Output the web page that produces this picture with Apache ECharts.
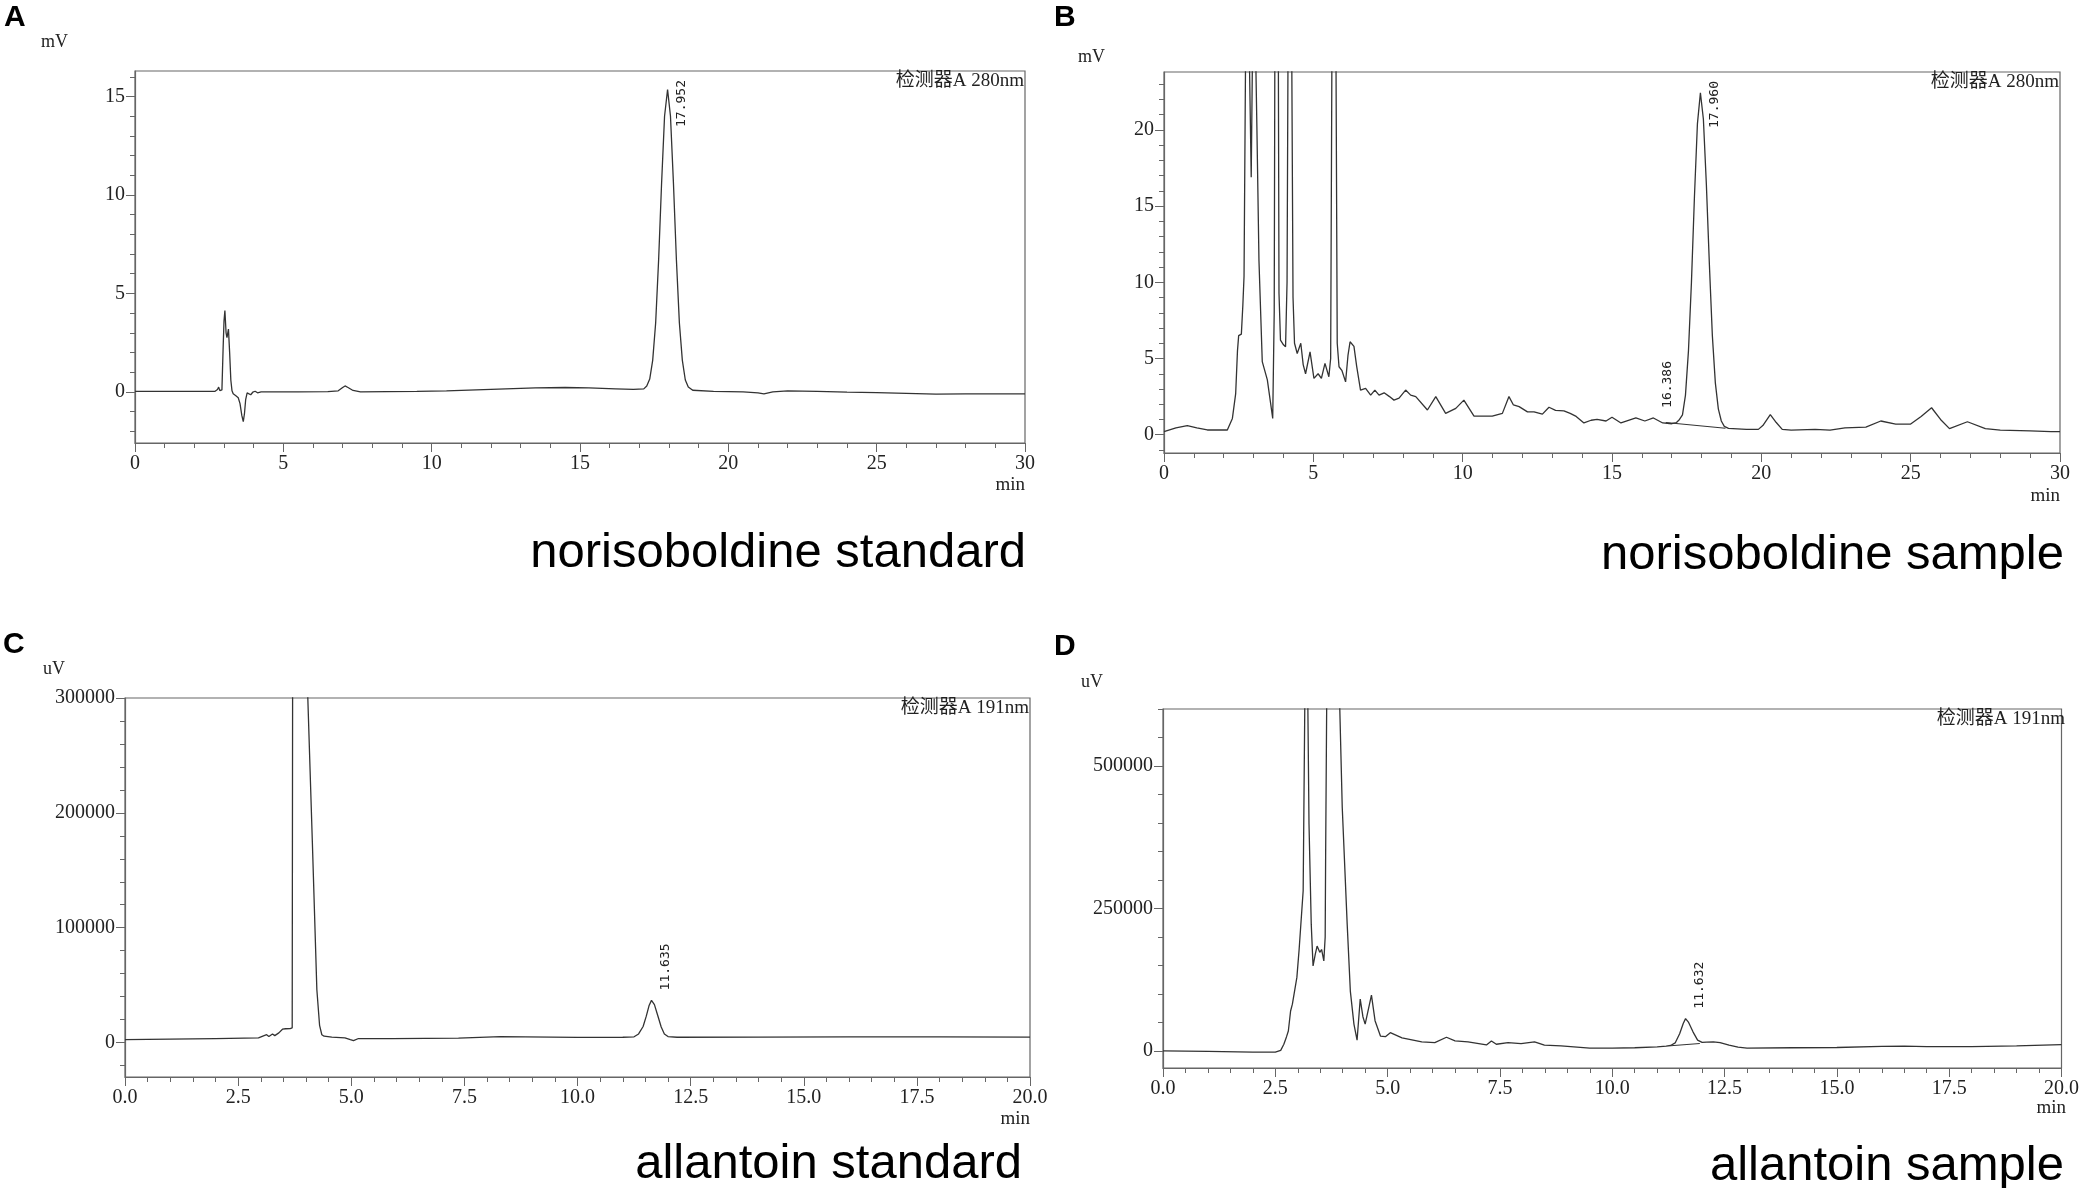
<!DOCTYPE html>
<html>
<head>
<meta charset="utf-8">
<script src="https://cdn.jsdelivr.net/npm/echarts@6/dist/echarts.min.js"></script>
<style>
  html, body { margin: 0; padding: 0; background: #fff; }
  #chart { width: 2082px; height: 1188px; }
</style>
</head>
<body>
<div id="chart"></div>
<script>
// ---- data (time in min, signal in mV / uV) ----
const norStandardTrace = [
  [0, 0.02], [1.0, 0.02], [2.0, 0.02], [2.7, 0.03], [2.78, 0.12], [2.82, 0.24], [2.86, 0.06],
  [2.93, 0.1], [2.97, 2.2], [3.0, 3.6], [3.03, 4.13], [3.07, 3.0], [3.10, 2.75], [3.15, 3.19],
  [3.19, 2.0], [3.23, 0.6], [3.27, 0.05], [3.31, -0.1], [3.40, -0.2], [3.48, -0.3], [3.54, -0.6],
  [3.60, -1.2], [3.65, -1.51], [3.69, -1.1], [3.73, -0.4], [3.78, -0.05], [3.84, -0.1], [3.90, -0.15],
  [3.97, -0.02], [4.05, 0.03], [4.13, -0.05], [4.25, 0.0], [4.5, 0.0], [5.5, 0.0], [6.5, 0.01],
  [6.85, 0.05], [7.0, 0.22], [7.08, 0.3], [7.18, 0.22], [7.35, 0.07], [7.6, 0.0], [8.5, 0.01],
  [9.5, 0.02], [10.5, 0.05], [11.5, 0.1], [12.5, 0.15], [13.5, 0.2], [14.5, 0.22], [15.3, 0.2],
  [16.2, 0.15], [16.8, 0.12], [17.15, 0.15], [17.25, 0.3], [17.35, 0.65], [17.45, 1.6], [17.55, 3.5],
  [17.65, 6.7], [17.75, 10.6], [17.85, 14.0], [17.952, 15.36], [18.05, 14.0], [18.15, 10.6],
  [18.25, 6.7], [18.35, 3.5], [18.45, 1.6], [18.55, 0.6], [18.65, 0.25], [18.8, 0.08], [19.5, 0.02],
  [20.5, 0.0], [21.0, -0.05], [21.2, -0.1], [21.5, 0.0], [22.0, 0.05], [23.0, 0.02], [24.0, -0.02],
  [25.0, -0.04], [26.0, -0.08], [27.0, -0.12], [28.0, -0.1], [29.0, -0.1], [30.0, -0.1]
];

const norSampleTrace = [
  [0, 0.2], [0.4, 0.45], [0.78, 0.59], [1.1, 0.45], [1.45, 0.31], [2.12, 0.31], [2.29, 1.07],
  [2.40, 2.7], [2.46, 5.5], [2.50, 6.5], [2.59, 6.6], [2.64, 8.5], [2.68, 10.4], [2.73, 24.5],
  [2.80, 40], [2.86, 24.5], [2.92, 16.9], [2.96, 24.5], [3.02, 40], [3.08, 23.7], [3.11, 20.2],
  [3.18, 11.4], [3.29, 4.8], [3.46, 3.6], [3.57, 2.06], [3.64, 1.07], [3.69, 8], [3.71, 24],
  [3.77, 40], [3.83, 24], [3.85, 9.3], [3.90, 6.2], [4.00, 5.9], [4.07, 5.77], [4.12, 10],
  [4.15, 24], [4.22, 40], [4.28, 24], [4.32, 9], [4.37, 6.0], [4.46, 5.33], [4.58, 6.0],
  [4.66, 4.6], [4.74, 4.0], [4.89, 5.44], [5.02, 3.7], [5.16, 4.0], [5.27, 3.7], [5.39, 4.68],
  [5.52, 3.8], [5.58, 5], [5.62, 24], [5.69, 40], [5.76, 24], [5.80, 6], [5.86, 4.46], [5.96, 4.2],
  [6.08, 3.47], [6.16, 5.2], [6.23, 6.1], [6.36, 5.8], [6.45, 4.5], [6.58, 2.93], [6.75, 3.04],
  [6.92, 2.6], [7.06, 2.93], [7.2, 2.6], [7.37, 2.75], [7.55, 2.5], [7.7, 2.27], [7.87, 2.4],
  [8.09, 2.93], [8.26, 2.6], [8.43, 2.5], [8.82, 1.62], [9.1, 2.5], [9.43, 1.4], [9.77, 1.73],
  [10.04, 2.27], [10.38, 1.22], [10.99, 1.22], [11.33, 1.4], [11.55, 2.5], [11.7, 1.95],
  [11.89, 1.84], [12.17, 1.5], [12.39, 1.5], [12.67, 1.35], [12.89, 1.8], [13.11, 1.6],
  [13.39, 1.57], [13.6, 1.4], [13.8, 1.2], [14.06, 0.77], [14.3, 0.95], [14.5, 1.0], [14.8, 0.9],
  [15.0, 1.15], [15.3, 0.77], [15.8, 1.1], [16.1, 0.9], [16.386, 1.1], [16.7, 0.77], [17.0, 0.72],
  [17.16, 0.8], [17.26, 1.0], [17.36, 1.3], [17.46, 2.6], [17.56, 5.5], [17.66, 10.0], [17.76, 15.6],
  [17.86, 20.4], [17.96, 22.44], [18.06, 20.7], [18.16, 16.4], [18.26, 11.2], [18.36, 6.5],
  [18.46, 3.4], [18.56, 1.7], [18.66, 0.9], [18.76, 0.55], [18.9, 0.42], [19.5, 0.35], [19.9, 0.35],
  [20.05, 0.6], [20.3, 1.32], [20.5, 0.8], [20.7, 0.35], [21.0, 0.3], [21.8, 0.35], [22.3, 0.3],
  [22.8, 0.45], [23.5, 0.5], [24.0, 0.9], [24.5, 0.7], [25.0, 0.7], [25.35, 1.2], [25.7, 1.77],
  [26.0, 1.0], [26.3, 0.4], [26.9, 0.85], [27.5, 0.4], [28.0, 0.3], [29.0, 0.25], [29.7, 0.2],
  [30.0, 0.2]
];
const norSampleBaseline = [[16.8, 0.8], [18.8, 0.42]];

const allStandardTrace = [
  [0, 2500], [1.0, 3000], [2.0, 3500], [2.95, 4100], [3.06, 5800], [3.13, 6800], [3.18, 5200],
  [3.26, 7400], [3.31, 6000], [3.40, 8400], [3.48, 11600], [3.55, 12000], [3.65, 12200],
  [3.695, 12800], [3.71, 500000], [3.85, 900000], [3.98, 420000], [4.04, 300000], [4.14, 175000],
  [4.24, 46000], [4.30, 15000], [4.35, 6800], [4.40, 5500], [4.42, 6800], [4.57, 4700],
  [4.86, 4100], [4.98, 2500], [5.05, 1600], [5.16, 3500], [5.9, 3500], [7.37, 3800], [8.3, 5200],
  [8.84, 4900], [10, 4500], [11, 4600], [11.25, 5000], [11.35, 7500], [11.45, 14000],
  [11.52, 23000], [11.58, 32000], [11.635, 36700], [11.70, 33000], [11.77, 24000], [11.85, 13500],
  [11.92, 7500], [12.0, 5200], [12.2, 4600], [14, 4700], [16, 5000], [18, 5000], [20, 4700]
];

const allSampleTrace = [
  [0, 0], [1.0, -1000], [2.0, -2000], [2.5, -2000], [2.62, 1000], [2.69, 11700], [2.75, 25000],
  [2.79, 35000], [2.84, 70000], [2.88, 82000], [2.92, 85000], [2.98, 129000], [3.03, 178000],
  [3.06, 181000], [3.12, 281000], [3.16, 640000], [3.19, 720000], [3.22, 640000], [3.25, 398000],
  [3.30, 222000], [3.34, 149000], [3.39, 170000], [3.43, 184000], [3.49, 173000], [3.53, 178000],
  [3.58, 158000], [3.61, 200000], [3.62, 340000], [3.65, 680000], [3.78, 1100000], [3.91, 680000],
  [3.99, 427000], [4.10, 222000], [4.17, 105000], [4.25, 47000], [4.32, 19000], [4.39, 91000],
  [4.45, 60000], [4.50, 47000], [4.64, 98000], [4.72, 53000], [4.84, 26000], [4.95, 25000],
  [5.06, 32000], [5.32, 23000], [5.76, 16000], [6.05, 14600], [6.31, 24000], [6.5, 17500],
  [6.79, 16000], [7.2, 10500], [7.31, 17500], [7.42, 11700], [7.68, 14600], [7.97, 12900],
  [8.27, 15800], [8.49, 10000], [8.86, 8800], [9.5, 4900], [10.0, 5000], [10.5, 5500], [11.0, 7000],
  [11.2, 8500], [11.3, 9500], [11.4, 14000], [11.5, 30000], [11.58, 48000], [11.632, 56600],
  [11.7, 50000], [11.8, 33000], [11.9, 19000], [12.0, 15000], [12.1, 15500], [12.25, 16000],
  [12.4, 14500], [12.6, 10000], [12.8, 6500], [13.0, 5000], [14, 5500], [15, 6000], [16, 8000],
  [16.5, 8500], [17, 7500], [18, 7500], [19, 9000], [20, 11000]
];
const allSampleBaseline = [[11.3, 9000], [11.95, 13000]];

// peak labels [time, apex value, text]
const norStandardPeaks = [[17.952, 15.36, '17.952']];
const norSamplePeaks = [[16.386, 1.1, '16.386'], [17.96, 22.44, '17.960']];
const allStandardPeaks = [[11.635, 36700, '11.635']];
const allSamplePeaks = [[11.632, 56600, '11.632']];

// tick values
const norStandardTicks = [0, 5, 10, 15];
const norSampleTicks = [0, 5, 10, 15, 20];
const allStandardTicks = [0, 100000, 200000, 300000];
const allSampleTicks = [0, 250000, 500000];

const captions = ['norisoboldine standard', 'norisoboldine sample', 'allantoin standard', 'allantoin sample'];
const panelLetters = ['A', 'B', 'C', 'D'];
const units = ['mV', 'mV', 'uV', 'uV'];
const detectors = ['检测器A 280nm', '检测器A 280nm', '检测器A 191nm', '检测器A 191nm'];

function minorValues(min, max, step, majors) {
  const out = [];
  for (let v = Math.ceil(min / step) * step; v <= max; v += step) {
    if (majors.indexOf(v) < 0) out.push(v);
  }
  return out;
}

const panels = [
  { trace: norStandardTrace, peaks: norStandardPeaks, ticks: norStandardTicks, minorStep: 1,
    ymin: -2.6, ymax: 16.3, xmax: 30, xint: 5, dec: 0,
    grid: { left: 135, top: 71, width: 890, height: 372 },
    letter: [4, 3], unit: [41, 33], min: [1025, 476], cap: [1026, 578] },
  { trace: norSampleTrace, peaks: norSamplePeaks, ticks: norSampleTicks, minorStep: 1,
    ymin: -1.2, ymax: 23.8, xmax: 30, xint: 5, dec: 0, base: norSampleBaseline,
    grid: { left: 1164, top: 72, width: 896, height: 381 },
    letter: [1054, 3], unit: [1078, 48], min: [2060, 487], cap: [2064, 580] },
  { trace: allStandardTrace, peaks: allStandardPeaks, ticks: allStandardTicks, minorStep: 20000,
    ymin: -30000, ymax: 300000, xmax: 20, xint: 2.5, dec: 1,
    grid: { left: 125, top: 698, width: 905, height: 379 },
    letter: [3, 630], unit: [43, 660], min: [1030, 1110], cap: [1022, 1189] },
  { trace: allSampleTrace, peaks: allSamplePeaks, ticks: allSampleTicks, minorStep: 50000,
    ymin: -30000, ymax: 600000, xmax: 20, xint: 2.5, dec: 1, base: allSampleBaseline,
    grid: { left: 1163, top: 709, width: 903, height: 359 },
    letter: [1054, 632], unit: [1081, 673], min: [2066, 1099], cap: [2064, 1191] }
];

const INK = '#333';
const FRAME = '#666';
const tickFont = { fontFamily: 'Liberation Serif', fontSize: 20, color: '#222' };

const grids = [], xAxes = [], yAxes = [], series = [];
panels.forEach((p, i) => {
  grids.push(Object.assign({ show: true, borderColor: FRAME, borderWidth: 1.2 }, p.grid));
  xAxes.push({
    gridIndex: i, type: 'value', min: 0, max: p.xmax, interval: p.xint,
    axisLine: { onZero: false, lineStyle: { color: FRAME, width: 1.2 } },
    axisTick: { length: 9, lineStyle: { color: FRAME } },
    minorTick: { show: true, splitNumber: 5, length: 5, lineStyle: { color: FRAME } },
    splitLine: { show: false },
    axisLabel: Object.assign({ margin: 11, formatter: v => v.toFixed(p.dec) }, tickFont)
  });
  yAxes.push({
    gridIndex: i, type: 'value', position: 'left', min: p.ymin, max: p.ymax,
    axisLine: { show: true, onZero: false, lineStyle: { color: FRAME, width: 1.2 } },
    axisTick: { show: true, length: 9, customValues: p.ticks, lineStyle: { color: FRAME } },
    splitLine: { show: false },
    axisLabel: Object.assign({ margin: 10, customValues: p.ticks, formatter: v => String(v) }, tickFont)
  });
  yAxes.push({
    gridIndex: i, type: 'value', position: 'left', min: p.ymin, max: p.ymax,
    axisLine: { show: false, onZero: false },
    axisTick: { show: true, length: 5, customValues: minorValues(p.ymin, p.ymax, p.minorStep, p.ticks),
      lineStyle: { color: FRAME } },
    splitLine: { show: false },
    axisLabel: { show: false }
  });
  series.push({
    type: 'line', xAxisIndex: i, yAxisIndex: 2 * i, data: p.trace,
    symbol: 'none', clip: true, lineStyle: { color: INK, width: 1.3 }
  });
});
panels.forEach((p, i) => {
  if (!p.base) return;
  series.push({
    type: 'line', xAxisIndex: i, yAxisIndex: 2 * i, data: p.base,
    symbol: 'none', clip: true, lineStyle: { color: INK, width: 1.1 }
  });
});

const chart = echarts.init(document.getElementById('chart'));
chart.setOption({
  animation: false,
  backgroundColor: '#fff',
  grid: grids,
  xAxis: xAxes,
  yAxis: yAxes,
  series: series
});

// texts: letters, units, "min", detector tags, captions and peak retention times
const graphics = [];
panels.forEach((p, i) => {
  const g = p.grid;
  graphics.push({ type: 'text', x: p.letter[0], y: p.letter[1],
    style: { text: panelLetters[i], fontFamily: 'Liberation Sans', fontWeight: 'bold', fontSize: 30,
      fill: '#000', align: 'left', verticalAlign: 'top' } });
  graphics.push({ type: 'text', x: p.unit[0], y: p.unit[1],
    style: { text: units[i], fontFamily: 'Liberation Serif', fontSize: 18, fill: '#222',
      align: 'left', verticalAlign: 'top' } });
  graphics.push({ type: 'text', x: p.min[0], y: p.min[1],
    style: { text: 'min', fontFamily: 'Liberation Serif', fontSize: 19, fill: '#222',
      align: 'right', verticalAlign: 'top' } });
  graphics.push({ type: 'text', x: g.left + g.width - 1, y: g.top + 1,
    style: { text: detectors[i], fontFamily: "'Liberation Serif', 'Noto Sans CJK SC'", fontSize: 19,
      fill: '#222', align: 'right', verticalAlign: 'top' } });
  graphics.push({ type: 'text', x: p.cap[0], y: p.cap[1],
    style: { text: captions[i], fontFamily: 'Liberation Sans', fontSize: 49, fill: '#000',
      align: 'right', verticalAlign: 'bottom' } });
  p.peaks.forEach(pk => {
    const px = chart.convertToPixel({ seriesIndex: i }, [pk[0], pk[1]]);
    const len = 48;
    let y = px[1] - 10;
    if (y - len < g.top + 8) y = g.top + 8 + len;
    graphics.push({ type: 'text', x: px[0] + 14, y: y, rotation: Math.PI / 2,
      style: { text: pk[2], fontFamily: 'DejaVu Sans Mono', fontSize: 13, fill: '#222',
        align: 'left', verticalAlign: 'middle' } });
  });
});
chart.setOption({ graphic: graphics });
</script>
</body>
</html>
